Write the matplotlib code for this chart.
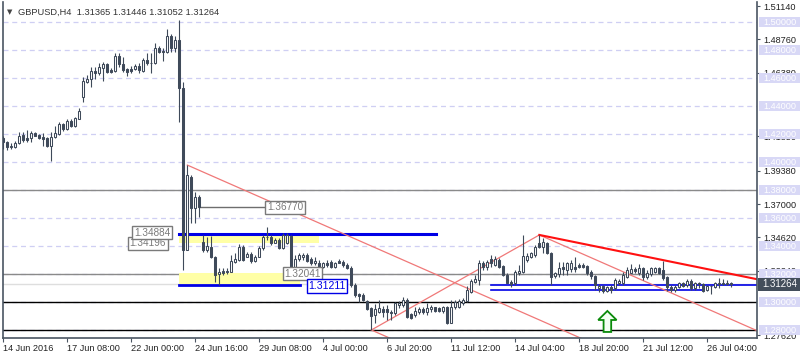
import numpy as np
import matplotlib
matplotlib.use("Agg")
import matplotlib.pyplot as plt
import matplotlib.transforms as mtransforms
from matplotlib.patches import Rectangle, Polygon

plt.rcParams['font.family'] = ['Liberation Sans', 'DejaVu Sans']

# ---- H4 candles, GBPUSD 14 Jun - 26 Jul 2016 ----
opens = [
    1.4169, 1.4145, 1.4110, 1.4110, 1.4133, 1.4190, 1.4173, 1.4169, 1.4205, 1.4193,
    1.4181, 1.4169, 1.4117, 1.4176, 1.4200, 1.4269, 1.4236, 1.4293, 1.4259, 1.4309,
    1.4467, 1.4571, 1.4591, 1.4650, 1.4638, 1.4674, 1.4700, 1.4657, 1.4652, 1.4757,
    1.4698, 1.4664, 1.4664, 1.4664, 1.4688, 1.4652, 1.4729, 1.4705, 1.4705, 1.4812,
    1.4795, 1.4783, 1.4900, 1.4812, 1.4871, 1.4526, 1.3375, 1.3893, 1.3669, 1.3752,
    1.3431, 1.3371, 1.3395, 1.3324, 1.3200, 1.3218, 1.3221, 1.3216, 1.3288, 1.3300,
    1.3395, 1.3325, 1.3343, 1.3295, 1.3324, 1.3388, 1.3466, 1.3466, 1.3424, 1.3443,
    1.3388, 1.3419, 1.3471, 1.3252, 1.3305, 1.3324, 1.3336, 1.3305, 1.3281, 1.3281,
    1.3252, 1.3281, 1.3288, 1.3248, 1.3295, 1.3288, 1.3264, 1.3243, 1.3124, 1.3057,
    1.3050, 1.3009, 1.2955, 1.2907, 1.2931, 1.2948, 1.2948, 1.2931, 1.2924, 1.2979,
    1.2979, 1.3014, 1.2912, 1.2907, 1.2931, 1.2948, 1.2931, 1.2948, 1.2962, 1.2955,
    1.2938, 1.2962, 1.2852, 1.2962, 1.2965, 1.2995, 1.3009, 1.3074, 1.3145, 1.3157,
    1.3281, 1.3252, 1.3305, 1.3264, 1.3300, 1.3257, 1.3193, 1.3145, 1.3138, 1.3205,
    1.3216, 1.3300, 1.3324, 1.3336, 1.3424, 1.3395, 1.3419, 1.3348, 1.3186, 1.3197,
    1.3252, 1.3228, 1.3233, 1.3252, 1.3264, 1.3262, 1.3257, 1.3216, 1.3186, 1.3098,
    1.3114, 1.3081, 1.3109, 1.3098, 1.3133, 1.3133, 1.3181, 1.3209, 1.3233, 1.3209,
    1.3241, 1.3181, 1.3200, 1.3216, 1.3241, 1.3228, 1.3176, 1.3109, 1.3086, 1.3109,
    1.3133, 1.3121, 1.3152, 1.3098, 1.3138, 1.3129, 1.3086, 1.3114, 1.3109, 1.3129,
    1.3138, 1.3129, 1.31365]
highs = [
    1.4186, 1.4150, 1.4133, 1.4150, 1.4212, 1.4212, 1.4228, 1.4221, 1.4212, 1.4202,
    1.4205, 1.4181, 1.4217, 1.4257, 1.4288, 1.4281, 1.4305, 1.4305, 1.4324, 1.4384,
    1.4609, 1.4621, 1.4681, 1.4681, 1.4709, 1.4716, 1.4709, 1.4669, 1.4776, 1.4776,
    1.4752, 1.4669, 1.4688, 1.4698, 1.4705, 1.4741, 1.4776, 1.4776, 1.4848, 1.4828,
    1.4812, 1.4948, 1.4912, 1.4900, 1.5014, 1.4574, 1.3978, 1.3907, 1.3788, 1.3764,
    1.3479, 1.3467, 1.3471, 1.3328, 1.3246, 1.3241, 1.3243, 1.3336, 1.3348, 1.3414,
    1.3407, 1.3359, 1.3359, 1.3336, 1.3400, 1.3479, 1.3533, 1.3479, 1.3455, 1.3455,
    1.3491, 1.3495, 1.3478, 1.3336, 1.3348, 1.3348, 1.3348, 1.3319, 1.3319, 1.3300,
    1.3288, 1.3300, 1.3300, 1.3288, 1.3305, 1.3300, 1.3276, 1.3255, 1.3133, 1.3066,
    1.3062, 1.3014, 1.2962, 1.2986, 1.3014, 1.2971, 1.2978, 1.2943, 1.3002, 1.3009,
    1.3038, 1.3026, 1.2924, 1.2962, 1.2962, 1.2962, 1.2991, 1.2978, 1.2967, 1.2962,
    1.2971, 1.2971, 1.3014, 1.3014, 1.3019, 1.3026, 1.3114, 1.3162, 1.3193, 1.3300,
    1.3295, 1.3300, 1.3336, 1.3328, 1.3312, 1.3264, 1.3205, 1.3157, 1.3228, 1.3264,
    1.3479, 1.3348, 1.3359, 1.3407, 1.3479, 1.3455, 1.3431, 1.3359, 1.3216, 1.3288,
    1.3288, 1.3288, 1.3300, 1.3319, 1.3281, 1.3276, 1.3264, 1.3228, 1.3193, 1.3129,
    1.3121, 1.3116, 1.3121, 1.3169, 1.3162, 1.3216, 1.3252, 1.3271, 1.3252, 1.3271,
    1.3252, 1.3228, 1.3252, 1.3252, 1.3248, 1.3295, 1.3186, 1.3121, 1.3121, 1.3145,
    1.3145, 1.3162, 1.3162, 1.3145, 1.3145, 1.3138, 1.3121, 1.3124, 1.3145, 1.3169,
    1.3162, 1.3157, 1.31446]
lows = [
    1.4091, 1.4086, 1.4091, 1.4098, 1.4128, 1.4145, 1.4145, 1.4145, 1.4184, 1.4164,
    1.4114, 1.4105, 1.4007, 1.4172, 1.4193, 1.4223, 1.4228, 1.4248, 1.4252, 1.4305,
    1.4431, 1.4562, 1.4538, 1.4593, 1.4621, 1.4579, 1.4633, 1.4633, 1.4645, 1.4681,
    1.4645, 1.4616, 1.4638, 1.4657, 1.4638, 1.4645, 1.4693, 1.4638, 1.4700, 1.4781,
    1.4724, 1.4778, 1.4783, 1.4783, 1.4288, 1.3228, 1.3371, 1.3562, 1.3564, 1.3609,
    1.3359, 1.3359, 1.3316, 1.3143, 1.3121, 1.3193, 1.3200, 1.3212, 1.3276, 1.3295,
    1.3295, 1.3319, 1.3281, 1.3288, 1.3319, 1.3371, 1.3443, 1.3407, 1.3419, 1.3376,
    1.3376, 1.3414, 1.3228, 1.3216, 1.3295, 1.3300, 1.3288, 1.3264, 1.3264, 1.3241,
    1.3241, 1.3252, 1.3241, 1.3241, 1.3276, 1.3252, 1.3236, 1.3109, 1.3038, 1.3002,
    1.3009, 1.2943, 1.2800, 1.2848, 1.2924, 1.2895, 1.2871, 1.2871, 1.2907, 1.2955,
    1.2962, 1.2883, 1.2876, 1.2895, 1.2914, 1.2914, 1.2907, 1.2931, 1.2931, 1.2931,
    1.2924, 1.2843, 1.2848, 1.2948, 1.2955, 1.2979, 1.3002, 1.3066, 1.3133, 1.3121,
    1.3228, 1.3228, 1.3252, 1.3257, 1.3241, 1.3186, 1.3133, 1.3109, 1.3121, 1.3193,
    1.3209, 1.3288, 1.3312, 1.3324, 1.3383, 1.3348, 1.3343, 1.3121, 1.3169, 1.3181,
    1.3193, 1.3193, 1.3216, 1.3216, 1.3241, 1.3241, 1.3193, 1.3162, 1.3086, 1.3074,
    1.3062, 1.3074, 1.3066, 1.3086, 1.3121, 1.3121, 1.3169, 1.3205, 1.3205, 1.3193,
    1.3157, 1.3162, 1.3186, 1.3205, 1.3200, 1.3157, 1.3081, 1.3074, 1.3074, 1.3098,
    1.3109, 1.3109, 1.3086, 1.3086, 1.3098, 1.3074, 1.3081, 1.3057, 1.3098, 1.3098,
    1.3121, 1.3121, 1.31052]
closes = [
    1.4145, 1.4110, 1.4114, 1.4133, 1.4188, 1.4157, 1.4157, 1.4205, 1.4188, 1.4173,
    1.4166, 1.4114, 1.4176, 1.4205, 1.4269, 1.4233, 1.4293, 1.4257, 1.4312, 1.4364,
    1.4579, 1.4591, 1.4650, 1.4638, 1.4676, 1.4698, 1.4645, 1.4641, 1.4757, 1.4698,
    1.4657, 1.4645, 1.4650, 1.4688, 1.4657, 1.4729, 1.4705, 1.4707, 1.4812, 1.4788,
    1.4783, 1.4900, 1.4812, 1.4871, 1.4526, 1.3371, 1.3907, 1.3669, 1.3752, 1.3678,
    1.3371, 1.3400, 1.3324, 1.3193, 1.3212, 1.3207, 1.3211, 1.3295, 1.3305, 1.3395,
    1.3300, 1.3343, 1.3295, 1.3324, 1.3388, 1.3466, 1.3462, 1.3419, 1.3443, 1.3388,
    1.3479, 1.3479, 1.3252, 1.3305, 1.3336, 1.3336, 1.3295, 1.3276, 1.3295, 1.3252,
    1.3276, 1.3264, 1.3248, 1.3276, 1.3281, 1.3264, 1.3243, 1.3121, 1.3050, 1.3043,
    1.3014, 1.2948, 1.2900, 1.2948, 1.2955, 1.2931, 1.2931, 1.2919, 1.2991, 1.2995,
    1.3014, 1.2895, 1.2888, 1.2938, 1.2948, 1.2931, 1.2959, 1.2962, 1.2938, 1.2938,
    1.2962, 1.2848, 1.2962, 1.3002, 1.3005, 1.3014, 1.3086, 1.3152, 1.3162, 1.3281,
    1.3248, 1.3288, 1.3276, 1.3305, 1.3252, 1.3193, 1.3138, 1.3129, 1.3216, 1.3224,
    1.3328, 1.3328, 1.3348, 1.3395, 1.3395, 1.3431, 1.3348, 1.3181, 1.3205, 1.3241,
    1.3233, 1.3276, 1.3276, 1.3233, 1.3252, 1.3250, 1.3209, 1.3186, 1.3121, 1.3114,
    1.3081, 1.3109, 1.3086, 1.3157, 1.3152, 1.3193, 1.3228, 1.3233, 1.3224, 1.3241,
    1.3181, 1.3209, 1.3241, 1.3241, 1.3209, 1.3169, 1.3109, 1.3086, 1.3109, 1.3138,
    1.3114, 1.3152, 1.3098, 1.3133, 1.3129, 1.3081, 1.3114, 1.3117, 1.3133, 1.3138,
    1.3129, 1.3137, 1.31264]

time_ticks = [0, 16, 32, 48, 64, 80, 96, 112, 128, 144, 160, 176]
time_labels = ["14 Jun 2016", "17 Jun 08:00", "22 Jun 00:00", "24 Jun 16:00",
               "29 Jun 08:00", "4 Jul 00:00", "6 Jul 20:00", "11 Jul 12:00",
               "14 Jul 04:00", "18 Jul 20:00", "21 Jul 12:00", "26 Jul 04:00"]
scale_ticks = [1.51140, 1.48760, 1.46380, 1.41850, 1.39380,
               1.37000, 1.34620, 1.32240, 1.27620]
round_levels = [1.50, 1.48, 1.46, 1.44, 1.42, 1.40, 1.38, 1.36, 1.34, 1.32, 1.30, 1.28]
last_price = 1.31264

# drawn objects
resist_hi, resist_lo = 1.34884, 1.34196
support_hi, support_lo = 1.32041, 1.31211
spike_level = 1.36770
lower_blue = 1.30850
chan_p1 = (46, 1.3978)     # channel line
chan_p2 = (134, 1.2872)
swing_low = (92, 1.2800)
swing_high = (134, 1.3479)
wedge_top = (182, 1.3200)
arrow_bar, arrow_top, arrow_base = 151, 1.2936, 1.2786

dark = '#3f4a5a'
xmax = 188.4

fig = plt.figure(figsize=(8, 3.6), dpi=100)
ax = fig.add_axes([2.5/800, 22/360, 754.5/800, 336/360])
ax.set_xlim(-0.2, xmax)
ax.set_ylim(1.274286, 1.514286)

# grid levels
for lv in round_levels:
    ax.axhline(lv, color='#cfcff3', lw=0.9, ls=(0, (4, 3)), zorder=1)
ax.axhline(1.38, color='#8a8a8a', lw=1, zorder=1.2)
ax.axhline(1.32, color='#8a8a8a', lw=1, zorder=1.2)
ax.axhline(1.30, color='black', lw=1, zorder=1.2)
ax.axhline(1.28, color='black', lw=1, zorder=1.2)
ax.axhline(last_price, color='#dedede', lw=1, zorder=1.1)

# zones
ax.add_patch(Rectangle((44, resist_lo), 78.9 - 44, resist_hi - resist_lo,
                       facecolor='#ffffa6', edgecolor='none', zorder=1.5))
ax.add_patch(Rectangle((44, support_lo), 74.2 - 44, support_hi - support_lo,
                       facecolor='#ffffa6', edgecolor='none', zorder=1.5))
ax.plot([44, 108.2], [resist_hi, resist_hi], color='#0000e6', lw=2.2, zorder=2)
ax.plot([44, 74.2], [support_lo, support_lo], color='#0000e6', lw=2.0, zorder=2)
ax.plot([122, xmax], [support_lo, support_lo], color='#0000e6', lw=1.2, zorder=2)
ax.plot([122, 175], [lower_blue, lower_blue], color='#0000e6', lw=1.2, zorder=2)
ax.plot([49, 65.7], [spike_level, spike_level], color='#6e6e6e', lw=1, zorder=2)

# trend lines
slope = (chan_p2[1] - chan_p1[1]) / (chan_p2[0] - chan_p1[0])
for b0, p0 in [chan_p1, swing_low, swing_high]:
    ax.plot([b0, xmax], [p0, p0 + slope * (xmax - b0)], color='#f07878', lw=0.9, zorder=2)
ax.plot([swing_low[0], swing_high[0]], [swing_low[1], swing_high[1]],
        color='#f07878', lw=0.9, zorder=2)
s2 = (wedge_top[1] - swing_high[1]) / (wedge_top[0] - swing_high[0])
ax.plot([swing_high[0], xmax], [swing_high[1], swing_high[1] + s2 * (xmax - swing_high[0])],
        color='#ff1010', lw=1.5, zorder=2)

# candles
x = np.arange(len(opens))
o = np.array(opens); h = np.array(highs); l = np.array(lows); c = np.array(closes)
ax.vlines(x, l, h, color=dark, lw=0.8, zorder=3)
fills = np.where(c >= o, 'white', dark)
ax.bar(x, np.abs(c - o), bottom=np.minimum(o, c), width=0.55, color=fills,
       edgecolor=dark, linewidth=0.75, zorder=4)

# arrow
hw, sw = 2.3, 0.95
mid = arrow_top - (arrow_top - arrow_base) * 0.43
pts = [(arrow_bar, arrow_top), (arrow_bar + hw, mid), (arrow_bar + sw, mid),
       (arrow_bar + sw, arrow_base), (arrow_bar - sw, arrow_base),
       (arrow_bar - sw, mid), (arrow_bar - hw, mid)]
ax.add_patch(Polygon(pts, closed=True, facecolor='#f4fff4', edgecolor='#0a8a0a',
                     lw=1.3, zorder=5))

# price labels on chart
gray_box = dict(boxstyle='square,pad=0.15', facecolor='white', edgecolor='#7a7a7a', lw=1)
ax.text(40.7, resist_lo, f"{resist_lo:.5f}", ha='right', va='center', fontsize=7.2,
        color='#7a7a7a', bbox=gray_box, zorder=6)
ax.text(41.7, resist_hi + 0.0008, f"{resist_hi:.5f}", ha='right', va='center', fontsize=7.2,
        color='#7a7a7a', bbox=gray_box, zorder=6)
ax.text(65.9, spike_level, f"{spike_level:.5f}", ha='left', va='center', fontsize=7.2,
        color='#7a7a7a', bbox=gray_box, zorder=6)
ax.text(70.2, support_hi - 0.0004, f"{support_hi:.5f}", ha='left', va='center', fontsize=7.2,
        color='#7a7a7a', bbox=gray_box, zorder=6)
ax.text(76.2, support_lo - 0.0007, f"{support_lo:.5f}", ha='left', va='center', fontsize=7.6,
        color='#0000e6', zorder=6,
        bbox=dict(boxstyle='square,pad=0.15', facecolor='white', edgecolor='#0000e6', lw=1))

# axes styling
for side in ['left', 'bottom', 'right']:
    ax.spines[side].set_color('#4a5562')
    ax.spines[side].set_linewidth(1.2)
ax.spines['top'].set_visible(False)

ax.set_xticks(time_ticks)
ax.set_xticklabels(time_labels, ha='left', fontsize=6.6, color='#222222')
ax.tick_params(axis='x', direction='out', length=3, width=0.8, color='#4a5562', pad=1.5)
ax.yaxis.tick_right()
ax.set_yticks(scale_ticks)
ax.set_yticklabels([f"{v:.5f}" for v in scale_ticks], fontsize=6.6, color='#222222')
ax.tick_params(axis='y', direction='out', length=2.5, width=0.8, color='#4a5562', pad=2)

# right-hand level boxes
trans = mtransforms.blended_transform_factory(ax.transAxes, ax.transData)
axw = 754.5
for lv in round_levels:
    ax.add_patch(Rectangle((1 + 2/axw, lv - 0.0033), 43/axw, 0.0066, transform=trans,
                           facecolor='#d8d8f6', edgecolor='none', clip_on=False, zorder=6))
    ax.text(1 + 6/axw, lv, f"{lv:.5f}", transform=trans, color='white', fontsize=6.6,
            ha='left', va='center', clip_on=False, zorder=7)
ax.add_patch(Rectangle((1 + 1/axw, last_price - 0.0045), 44/axw, 0.009, transform=trans,
                       facecolor='#434e5b', edgecolor='none', clip_on=False, zorder=6))
ax.text(1 + 5/axw, last_price, f"{last_price:.5f}", transform=trans, color='white',
        fontsize=7, ha='left', va='center', clip_on=False, zorder=7)

# header
fig.text(7/800, 1 - 12/360, "\u25bc", fontsize=5, color='#444444', va='center',
         family='DejaVu Sans')
fig.text(18/800, 1 - 12/360,
         f"GBPUSD,H4  {opens[-1]:.5f} {highs[-1]:.5f} {lows[-1]:.5f} {closes[-1]:.5f}",
         fontsize=6.7, color='#333333', va='center')

fig.savefig("out.png", dpi=100, facecolor='white')
